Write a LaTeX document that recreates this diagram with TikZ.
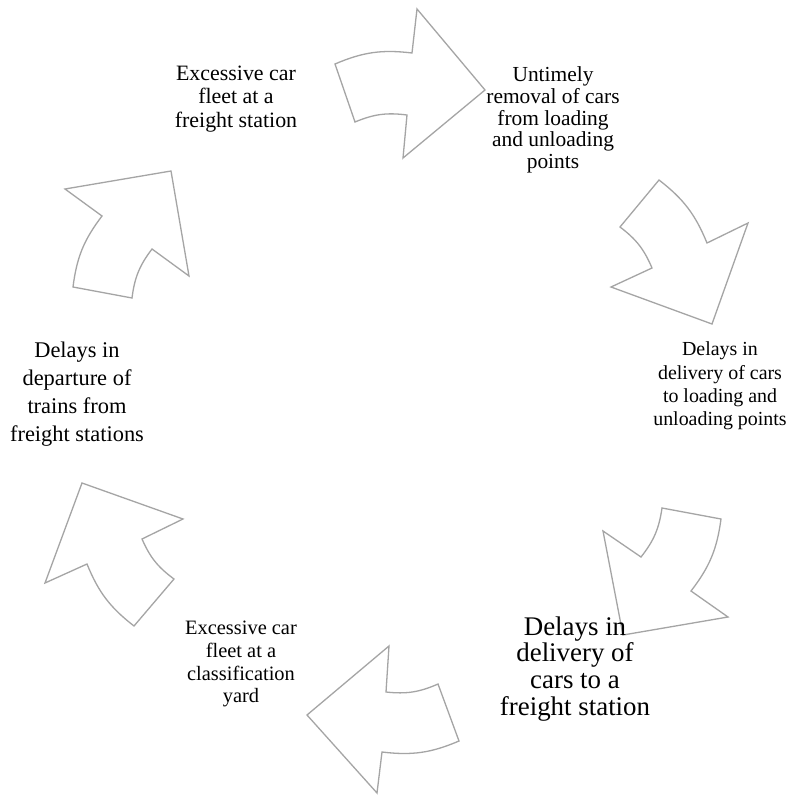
\documentclass[tikz,border=0pt]{standalone}
\usepackage{fontspec}
\setmainfont{Liberation Serif}
\begin{document}
\begin{tikzpicture}[x=1bp,y=-1bp,
  blockarrow/.style={draw=arrowgray,line width=1.3bp,line join=miter,fill=white},
  lbl/.style={align=center,inner sep=0pt,text=black}]
\definecolor{arrowgray}{RGB}{165,165,165}
\useasboundingbox[fill=white] (0,0) rectangle (786,795);
% arrows
\draw[blockarrow] (355,122) -- (335,64) to[bend left=15] (412,53) -- (417,9) -- (485,90) -- (403,158) -- (407,115) to[bend right=15] cycle;
\draw[blockarrow] (620,227) -- (659,180) to[bend left=15] (707,243) -- (748,223) -- (712,324) -- (611,287) -- (652,268) to[bend right=15] cycle;
\draw[blockarrow] (662,508) -- (721,519) to[bend left=15] (691,591) -- (728,617) -- (623,635) -- (603,531) -- (641,557) to[bend right=15] cycle;
\draw[blockarrow] (438,684) -- (459,741) to[bend left=15] (382,752) -- (377,793) -- (307,715) -- (389,646) -- (386,692) to[bend right=15] cycle;
\draw[blockarrow] (174,579) -- (134,626) to[bend left=15] (87,564) -- (45,583) -- (82,483) -- (183,519) -- (142,539) to[bend right=15] cycle;
\draw[blockarrow] (132,298) -- (73,287) to[bend left=15] (102,216) -- (65,189) -- (171,171) -- (189,276) -- (152,249) to[bend right=15] cycle;
% labels
\node[lbl,font=\fontsize{22}{23.5}\selectfont] (t1) at (236,99) {Excessive car\\fleet at a\\freight station};
\node[lbl,font=\fontsize{21.5}{21.7}\selectfont] (t2) at (553,120) {Untimely\\removal of cars\\from loading\\and unloading\\points};
\node[lbl,font=\fontsize{20}{23.5}\selectfont] (t3) at (720,386) {Delays in\\delivery of cars\\to loading and\\unloading points};
\node[lbl,font=\fontsize{27}{27}\selectfont] (t4) at (575,669) {Delays in\\delivery of\\cars to a\\freight station};
\node[lbl,font=\fontsize{20.5}{23}\selectfont] (t5) at (241,664) {Excessive car\\fleet at a\\classification\\yard};
\node[lbl,font=\fontsize{22.5}{28}\selectfont] (t6) at (77,394) {Delays in\\departure of\\trains from\\freight stations};
\end{tikzpicture}
\end{document}
